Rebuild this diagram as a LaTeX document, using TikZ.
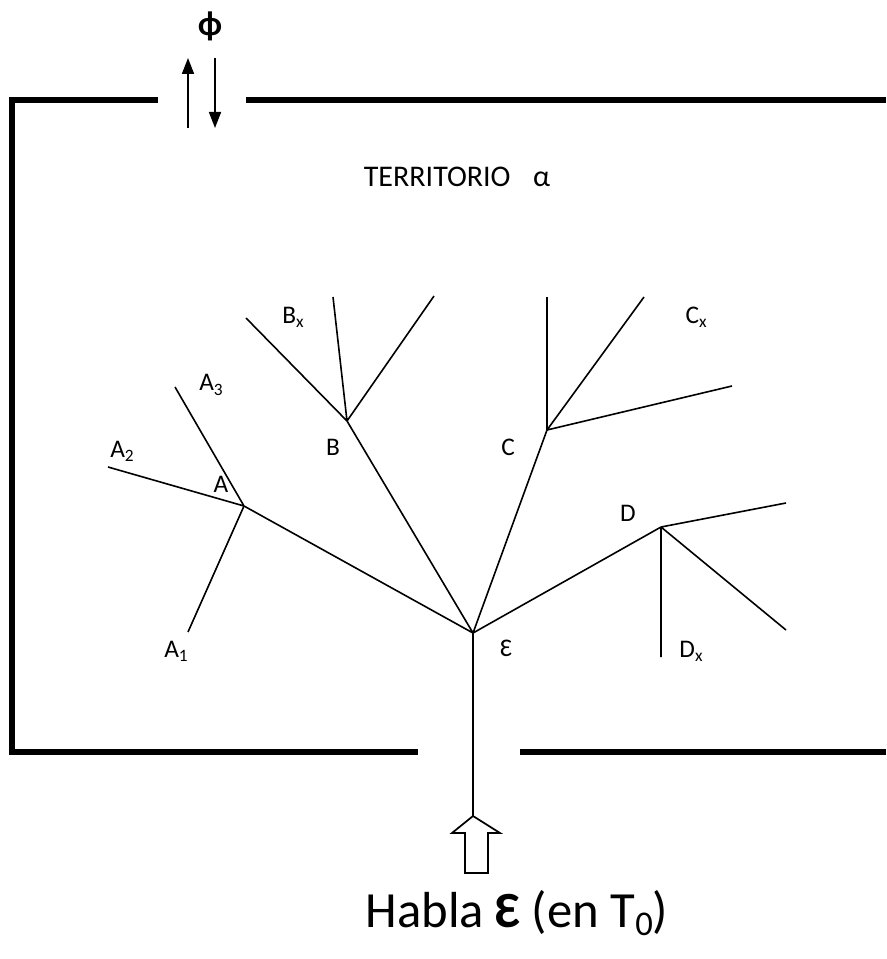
\documentclass[tikz,border=0pt]{standalone}
\usepackage{fontspec}
\setmainfont{Carlito}
\usetikzlibrary{arrows.meta}
\newcommand{\lowsub}[2]{\raisebox{-0.35ex}{\fontsize{#1}{#1}\selectfont #2}}
\begin{document}
\begin{tikzpicture}[x=0.75pt,y=-0.75pt,
  wall/.style={line width=3.8pt},
  branch/.style={line width=1.2pt},
  flux/.style={line width=1.3pt,-{Triangle[length=12pt,width=9pt]}},
  lbl/.style={font=\fontsize{19}{21}\selectfont,inner sep=0pt}]
\useasboundingbox (0,0) rectangle (886,959);

% territory walls
\draw[wall] (158,100) -- (12,100) -- (12,752) -- (418,752);
\draw[wall] (246,100) -- (886,100);
\draw[wall] (520,752) -- (886,752);

% exchange at the opening
\coordinate (upA) at (188,128); \coordinate (upB) at (188,58);
\coordinate (dnA) at (215,58);  \coordinate (dnB) at (215,128);
\draw[flux] (upA) -- (upB);
\draw[flux] (dnA) -- (dnB);
\node[font=\fontsize{26}{28}\selectfont\bfseries,inner sep=0pt] (phi) at (210,26) {ϕ};

\node[font=\fontsize{22.5}{24}\selectfont,inner sep=0pt] (terr) at (457,177) {TERRITORIO\hspace{0.75em}α};

% tree junctions
\coordinate (E) at (473,633);
\coordinate (A) at (244,506);
\coordinate (B) at (347,421);
\coordinate (C) at (547,430);
\coordinate (D) at (661,527);
% leaves
\coordinate (a1) at (188,632); \coordinate (a2) at (108,467); \coordinate (a3) at (175,387);
\coordinate (b1) at (246,318); \coordinate (b2) at (333,297); \coordinate (b3) at (434,296);
\coordinate (c1) at (547,297); \coordinate (c2) at (644,297); \coordinate (c3) at (732,386);
\coordinate (d1) at (786,503); \coordinate (d2) at (786,630); \coordinate (d3) at (661,657);
\coordinate (root) at (473,816);

\draw[branch] (root) -- (E);
\draw[branch] (E) -- (A) (E) -- (B) (E) -- (C) (E) -- (D);
\draw[branch] (A) -- (a1) (A) -- (a2) (A) -- (a3);
\draw[branch] (B) -- (b1) (B) -- (b2) (B) -- (b3);
\draw[branch] (C) -- (c1) (C) -- (c2) (C) -- (c3);
\draw[branch] (D) -- (d1) (D) -- (d2) (D) -- (d3);

% hollow input arrow
\draw[line width=1.3pt,line join=miter] (root) -- (500,833) -- (488,833) -- (488,873)
  -- (465,873) -- (465,833) -- (452,833) -- cycle;

% labels
\node[lbl] (lA)  at (221,484) {A};
\node[lbl] (lA1) at (176,651) {A\lowsub{13}{1}};
\node[lbl] (lA2) at (122,451) {A\lowsub{13}{2}};
\node[lbl] (lA3) at (211,385) {A\lowsub{13}{3}};
\node[lbl] (lB)  at (333,447) {B};
\node[lbl] (lBx) at (293,317) {B\lowsub{13}{x}};
\node[lbl] (lC)  at (508,447) {C};
\node[lbl] (lCx) at (696,317) {C\lowsub{13}{x}};
\node[lbl] (lD)  at (628,513) {D};
\node[lbl] (lDx) at (691,651) {D\lowsub{13}{x}};
\node[lbl] (lE)  at (506,648) {Ɛ};

\node[font=\fontsize{38}{42}\selectfont,inner sep=0pt] (habla) at (517,913)
  {Habla \textbf{Ɛ} (en T\lowsub{26}{0})};
\end{tikzpicture}
\end{document}
